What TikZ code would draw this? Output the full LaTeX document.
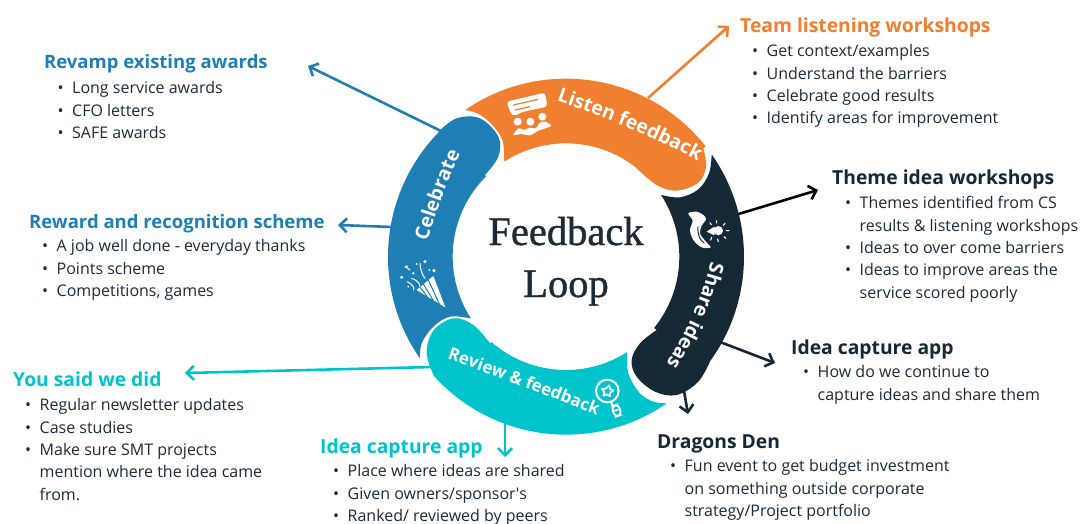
\documentclass[tikz,border=0pt]{standalone}
\usepackage{fontspec}
\setmainfont{Open Sans}
\newfontfamily\titlefont[FakeBold=1]{Liberation Serif}
\usetikzlibrary{arrows.meta,decorations.text}
\definecolor{cOrange}{HTML}{F08030}
\definecolor{cBlue}{HTML}{1F7FB4}
\definecolor{cNavy}{HTML}{152836}
\definecolor{cTeal}{HTML}{00C4CC}
\definecolor{cText}{HTML}{1C2B38}
\newcommand{\bl}[1]{\makebox[\bulw][l]{•}#1}
\newcommand{\cl}[1]{\makebox[\bulw][l]{}#1}
\newlength{\bulw}
\setlength{\bulw}{14.5pt}
\tikzset{
  heading/.style={anchor=base west,inner sep=0pt,font=\fontsize{19.3}{22}\selectfont\bfseries},
  headingb/.style={anchor=base west,inner sep=0pt,text=cBlue,font=\fontsize{18.5}{22}\selectfont\bfseries},
  listing/.style={anchor=north west,inner sep=0pt,align=left,text=cText,font=\fontsize{16}{22.3}\selectfont},
  link/.style={line width=2.6pt,-{Straight Barb[length=7pt,width=14pt,line width=2.6pt]}},
  curved/.style={decorate,decoration={text along path,text align={left},text={#1}}},
  titletext/.style={anchor=base,inner sep=0pt,text=cText,font=\fontsize{40.5}{40}\titlefont},
}
\newcommand{\cf}{([shift={(588,590)}]}
\newcommand{\bandfont}{\fontsize{19.5}{19.5}\selectfont\bfseries\color{white}}
\newcommand{\bandfontb}{\fontsize{17}{17}\selectfont\bfseries\color{white}}
\begin{document}
\begin{tikzpicture}[x=1pt,y=1pt,yscale=-1]
\useasboundingbox (0,0) rectangle (1080,524);
\fill[white] (0,0) rectangle (1080,524);

% connector ends
\coordinate (aOs) at (648,98); \coordinate (aOe) at (729,26);
\coordinate (aB1s) at (441,131); \coordinate (aB1e) at (308,66);
\coordinate (aB2s) at (392,227); \coordinate (aB2e) at (338,225);
\coordinate (aKs) at (732,216); \coordinate (aKe) at (818,190);
\coordinate (aN1s) at (720,342); \coordinate (aN1e) at (775,363);
\coordinate (aN2s) at (683,385); \coordinate (aN2e) at (688,414);
\coordinate (aT1s) at (432,367); \coordinate (aT1e) at (185,373);
\coordinate (aT2s) at (505,420); \coordinate (aT2e) at (505,457);

\draw[link,cOrange] (aOs) -- (aOe);
\draw[link,cBlue] (aB1s) -- (aB1e);
\draw[link,cBlue] (aB2s) -- (aB2e);
\draw[link,black] (aKs) -- (aKe);
\draw[link,cNavy] (aN1s) -- (aN1e);
\draw[link,cNavy] (aN2s) -- (aN2e);
\draw[link,cTeal] (aT1s) -- (aT1e);
\draw[link,cTeal] (aT2s) -- (aT2e);

% ring, in the frame of a 3x enlargement
\begin{scope}[shift={(370,60)},scale=1/3]
\fill[cOrange] \cf-124.6:534) arc[start angle=-124.6,end angle=-38.3,radius=534]
  -- plot[smooth,tension=.6] coordinates {(1000,265)(1008,320)(985,368)(920,392)(860,375)(800,325)}
  -- \cf-51.3:340) arc[start angle=-51.3,end angle=-122.7,radius=340]
  -- plot[smooth,tension=.6] coordinates {(402,300)(397,240)(362,190)(322,160)(285,150)} -- cycle;
\fill[cNavy] \cf-34.9:534) arc[start angle=-34.9,end angle=35.7,radius=534]
  -- plot[smooth,tension=.6] coordinates {(1022,900)(985,965)(920,1005)(855,995)(800,950)(785,900)(810,850)(860,810)}
  -- \cf39:340) arc[start angle=39,end angle=-32.8,radius=340]
  -- plot[smooth,tension=.6] coordinates {(875,405)(930,412)(985,388)(1017,340)(1025,285)} -- cycle;
\fill[cTeal] \cf55.5:534) arc[start angle=55.5,end angle=137.9,radius=534]
  -- plot[smooth,tension=.6] coordinates {(192,948)(170,880)(190,812)(250,775)(310,795)(360,850)}
  -- \cf131.2:340) arc[start angle=131.2,end angle=57.6,radius=340]
  -- plot[smooth,tension=.6] coordinates {(772,880)(775,940)(808,998)(850,1025)(890,1030)} -- cycle;
\fill[cBlue] \cf145.1:534) arc[start angle=145.1,end angle=224.4,radius=534]
  -- plot[smooth,tension=.6] coordinates {(205,215)(260,175)(330,175)(385,230)(385,290)(345,345)}
  -- \cf225.2:340) arc[start angle=225.2,end angle=147.3,radius=340]
  -- plot[smooth,tension=.6] coordinates {(300,775)(240,770)(190,800)(155,850)(150,895)} -- cycle;

% speech-bubble and people icon
\fill[white,rounded corners=3pt] (410,125) -- (525,98) -- (532,140) -- (460,155) -- (432,168) -- (422,160) -- cycle;
\draw[cOrange,line width=1.2pt] (430,135) -- (505,118) (435,150) -- (480,140);
\fill[white] (443,185) circle[radius=12] (481,185) circle[radius=12] (517,170) circle[radius=12];
\fill[white] plot[smooth cycle,tension=.4] coordinates {(430,225)(445,205)(462,210)(480,203)(497,205)(510,188)(525,185)(544,198)(505,212)(480,226)(455,222)};

% party popper icon
\fill[white] (140,690) -- (190,648) -- (226,742) -- cycle;
\draw[cBlue,line width=1pt] (160,672) -- (190,722) (175,660) -- (208,732) (150,682) -- (172,710);
\draw[white,line width=1pt,line cap=round] (125,655) .. controls (140,660) and (150,670) .. (150,680)
  (112,665) .. controls (130,675) and (135,685) .. (130,690)
  (150,610) .. controls (150,630) and (160,650) .. (165,655)
  (105,620) -- (120,630);
\fill[white] (95,652) circle[radius=5] (110,620) circle[radius=4] (130,640) circle[radius=4] (165,605) circle[radius=5] (192,632) circle[radius=5] (115,680) circle[radius=3] (178,630) circle[radius=3] (140,612) circle[radius=3];

% hand and bulb icon
\fill[white] plot[smooth cycle,tension=.55] coordinates {(955,460)(980,455)(1000,465)(1008,478)(995,497)(990,520)(1005,542)(1022,562)(995,562)(970,540)(960,510)(968,482)};
\draw[cNavy,line width=1pt] (984,500) .. controls (982,525) and (990,540) .. (1003,550);
\fill[white] (1045,512) circle[radius=14] (1010,515) -- (1033,500) -- (1033,526) -- cycle;
\draw[white,line width=1.1pt,line cap=round] (1040,482) -- (1040,489) (1065,490) -- (1060,496) (1077,512) -- (1069,512) (1068,535) -- (1062,530) (1045,545) -- (1043,537) (1022,540) -- (1025,532) (1020,488) -- (1024,494);

% magnifier icon
\draw[white,line width=2pt] (712,993) circle[radius=34];
\draw[white,line width=1.7pt,line join=round] (718,976) -- (720,987) -- (730,992) -- (721,998) -- (720,1009) -- (711,1003) -- (700,1007) -- (703,996) -- (695,987) -- (707,986) -- cycle;
\draw[white,line width=2pt] (722,1025) -- (728,1036);
\draw[white,line width=1.8pt,rounded corners=4pt] (724,1040) -- (745,1033) -- (755,1064) -- (735,1071) -- cycle;
\draw[white,line width=1.4pt] (732,1053) -- (750,1047);
\end{scope}

% curved labels
\begin{scope}[yscale=-1]
\path[curved={|\bandfont|Listen feedback}] (556.7,-100.7) .. controls (590,-112) and (650,-135) .. (700,-162) -- (720,-175);
\path[curved={|\bandfont|Celebrate}] (427.3,-241.7) .. controls (432,-225) and (445,-185) .. (462,-150) -- (472,-130);
\path[curved={|\bandfont|Share ideas}] (710.7,-261.7) .. controls (703,-295) and (688,-330) .. (667,-363) -- (655,-380);
\path[curved={|\bandfontb|Review {\&} feedback}] (447,-359) .. controls (480,-370) and (550,-397) .. (600,-416) -- (625,-426);
\end{scope}

% centre title
\node[titletext] (tA) at (566,245) {Feedback};
\node[titletext] (tB) at (566,297) {Loop};

% text blocks
\node[heading,text=cOrange] (h1) at (740,33) {Team listening workshops};
\node[listing] (l1) at (752,41) {\bl{Get context/examples}\strut\\\bl{Understand the barriers}\strut\\\bl{Celebrate good results}\strut\\\bl{Identify areas for improvement}\strut};

\node[headingb] (h2) at (44,69) {Revamp existing awards};
\node[listing] (l2) at (57.5,78) {\bl{Long service awards}\strut\\\bl{CFO letters}\strut\\\bl{SAFE awards}\strut};

\node[headingb] (h3) at (29,229) {Reward and recognition scheme};
\node[listing] (l3) at (42,236) {\bl{A job well done - everyday thanks}\strut\\\bl{Points scheme}\strut\\\bl{Competitions, games}\strut};

\node[heading,text=cTeal] (h4) at (13,386) {You said we did};
\node[listing] (l4) at (25,395) {\bl{Regular newsletter updates}\strut\\\bl{Case studies}\strut\\\bl{Make sure SMT projects}\strut\\\cl{mention where the idea came}\strut\\\cl{from.}\strut};

\node[heading,text=cTeal] (h5) at (320,453) {Idea capture app};
\node[listing] (l5) at (333,461) {\bl{Place where ideas are shared}\strut\\\bl{Given owners/sponsor\textquotesingle s}\strut\\\bl{Ranked/ reviewed by peers}\strut};

\node[heading,text=cNavy] (h6) at (657,448) {Dragons Den};
\node[listing] (l6) at (670,456) {\bl{Fun event to get budget investment}\strut\\\cl{on something outside corporate}\strut\\\cl{strategy/Project portfolio}\strut};

\node[heading,text=cNavy] (h7) at (791,354) {Idea capture app};
\node[listing] (l7) at (803,362) {\bl{How do we continue to}\strut\\\cl{capture ideas and share them}\strut};

\node[heading,text=cNavy] (h8) at (832,185) {Theme idea workshops};
\node[listing] (l8) at (845,193) {\bl{Themes identified from CS}\strut\\\cl{results \& listening workshops}\strut\\\bl{Ideas to over come barriers}\strut\\\bl{Ideas to improve areas the}\strut\\\cl{service scored poorly}\strut};
\end{tikzpicture}
\end{document}
